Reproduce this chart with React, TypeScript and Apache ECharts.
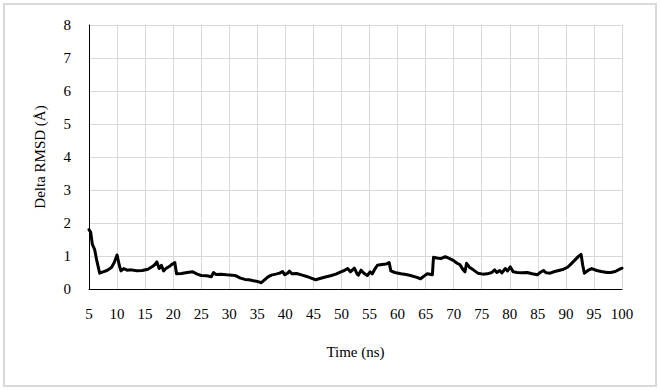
import React, { useEffect, useRef } from "react";
import * as echarts from "echarts";

const times: number[] = [
  5.0, 5.3, 5.6, 6.0, 6.4, 6.9, 7.5, 8.2, 9.0, 9.5, 10.0, 10.4, 10.7, 11.2, 11.8, 12.5, 13.5, 14.5, 15.5, 16.3,
  16.8, 17.1, 17.5, 17.9, 18.3, 18.7, 19.3, 19.8, 20.3, 20.6, 21.5, 22.5, 23.5, 24.3, 25.0, 26.0, 26.8, 27.2, 27.6, 28.5,
  29.5, 30.5, 31.2, 32.0, 32.8, 33.5, 34.3, 35.0, 35.7, 36.3, 36.9, 37.5, 38.3, 39.0, 39.5, 39.9, 40.4, 40.7, 41.2, 42.0,
  43.0, 43.8, 44.6, 45.4, 46.0, 46.8, 47.5, 48.2, 49.0, 49.9, 50.5, 51.1, 51.6, 52.3, 52.8, 53.0, 53.5, 54.0, 54.6, 55.1,
  55.5, 56.0, 56.4, 57.2, 58.0, 58.5, 58.8, 59.5, 60.6, 61.5, 62.3, 63.3, 64.1, 64.7, 65.3, 66.2, 66.4, 67.0, 67.7, 68.5,
  69.2, 70.0, 70.6, 71.1, 71.7, 72.0, 72.3, 72.8, 73.5, 74.3, 75.2, 76.0, 76.8, 77.3, 77.7, 78.2, 78.6, 79.2, 79.6, 80.1,
  80.6, 81.3, 82.2, 83.1, 84.0, 84.9, 85.4, 86.0, 86.5, 87.2, 88.0, 88.9, 89.6, 90.3, 90.8, 91.5, 92.2, 92.7, 93.0, 93.3,
  94.0, 94.6, 95.5, 96.3, 97.3, 98.0, 98.8, 99.6, 100.0,
];

const deltaRmsd: number[] = [
  1.80, 1.72, 1.35, 1.20, 0.85, 0.48, 0.52, 0.56, 0.65, 0.80, 1.03, 0.72, 0.55, 0.62, 0.57, 0.58, 0.55, 0.56, 0.60, 0.68,
  0.75, 0.82, 0.62, 0.72, 0.55, 0.62, 0.68, 0.75, 0.80, 0.46, 0.47, 0.50, 0.52, 0.45, 0.41, 0.40, 0.37, 0.50, 0.44, 0.45,
  0.43, 0.42, 0.40, 0.33, 0.29, 0.28, 0.25, 0.23, 0.19, 0.28, 0.37, 0.42, 0.45, 0.48, 0.53, 0.43, 0.48, 0.54, 0.46, 0.47,
  0.42, 0.38, 0.33, 0.28, 0.31, 0.35, 0.38, 0.41, 0.45, 0.52, 0.56, 0.62, 0.52, 0.63, 0.45, 0.42, 0.57, 0.48, 0.41, 0.52,
  0.46, 0.62, 0.72, 0.74, 0.76, 0.80, 0.55, 0.50, 0.46, 0.44, 0.41, 0.36, 0.31, 0.39, 0.46, 0.43, 0.96, 0.94, 0.92, 0.98,
  0.93, 0.86, 0.78, 0.74, 0.58, 0.52, 0.78, 0.66, 0.58, 0.48, 0.45, 0.46, 0.50, 0.58, 0.50, 0.56, 0.49, 0.62, 0.55, 0.67,
  0.52, 0.50, 0.49, 0.50, 0.46, 0.43, 0.50, 0.56, 0.49, 0.48, 0.53, 0.57, 0.60, 0.66, 0.74, 0.86, 0.98, 1.05, 0.72, 0.48,
  0.57, 0.62, 0.56, 0.53, 0.50, 0.50, 0.53, 0.60, 0.63,
];

const xMin = 5;
const xMax = 100;
const xStep = 5;
const yMin = 0;
const yMax = 8;
const yStep = 1;

const FONT = "Liberation Serif";

export default function App() {
  const ref = useRef<HTMLDivElement>(null);
  useEffect(() => {
    if (!ref.current) return;
    const chart = echarts.init(ref.current, undefined, { renderer: "svg" });
    const data = times.map((t, i) => [t, deltaRmsd[i]]);
    chart.setOption({
      animation: false,
      backgroundColor: "#ffffff",
      textStyle: { fontFamily: FONT },
      graphic: [
        {
          type: "rect",
          shape: { x: 4, y: 4, width: 652, height: 382 },
          style: { fill: "none", stroke: "#d9d9d9", lineWidth: 2 },
          silent: true,
        },
      ],
      grid: { left: 89, right: 38, top: 25, bottom: 101, containLabel: false },
      xAxis: {
        type: "value",
        min: xMin,
        max: xMax,
        interval: xStep,
        name: "Time (ns)",
        nameLocation: "middle",
        nameGap: 55,
        nameTextStyle: { fontFamily: FONT, fontSize: 15, color: "#000" },
        axisLine: { show: true, onZero: false, lineStyle: { color: "#000", width: 1 } },
        axisTick: { show: false },
        axisLabel: { fontFamily: FONT, fontSize: 15, color: "#000", margin: 17 },
        splitLine: { show: true, lineStyle: { color: "#d9d9d9", width: 1 } },
      },
      yAxis: {
        type: "value",
        min: yMin,
        max: yMax,
        interval: yStep,
        name: "Delta RMSD (Å)",
        nameLocation: "middle",
        nameGap: 42,
        nameTextStyle: { fontFamily: FONT, fontSize: 15, color: "#000" },
        axisLine: { show: true, lineStyle: { color: "#000", width: 1 } },
        axisTick: { show: false },
        axisLabel: { fontFamily: FONT, fontSize: 15, color: "#000", margin: 18 },
        splitLine: { show: true, lineStyle: { color: "#d9d9d9", width: 1 } },
      },
      series: [
        {
          type: "line",
          data,
          showSymbol: false,
          symbol: "none",
          lineStyle: { color: "#000", width: 3, join: "round", cap: "round" },
          z: 3,
        },
      ],
    });
    return () => chart.dispose();
  }, []);
  return (
    <div
      ref={ref}
      style={{ position: "absolute", left: 0, top: 0, width: 660, height: 390 }}
    />
  );
}
